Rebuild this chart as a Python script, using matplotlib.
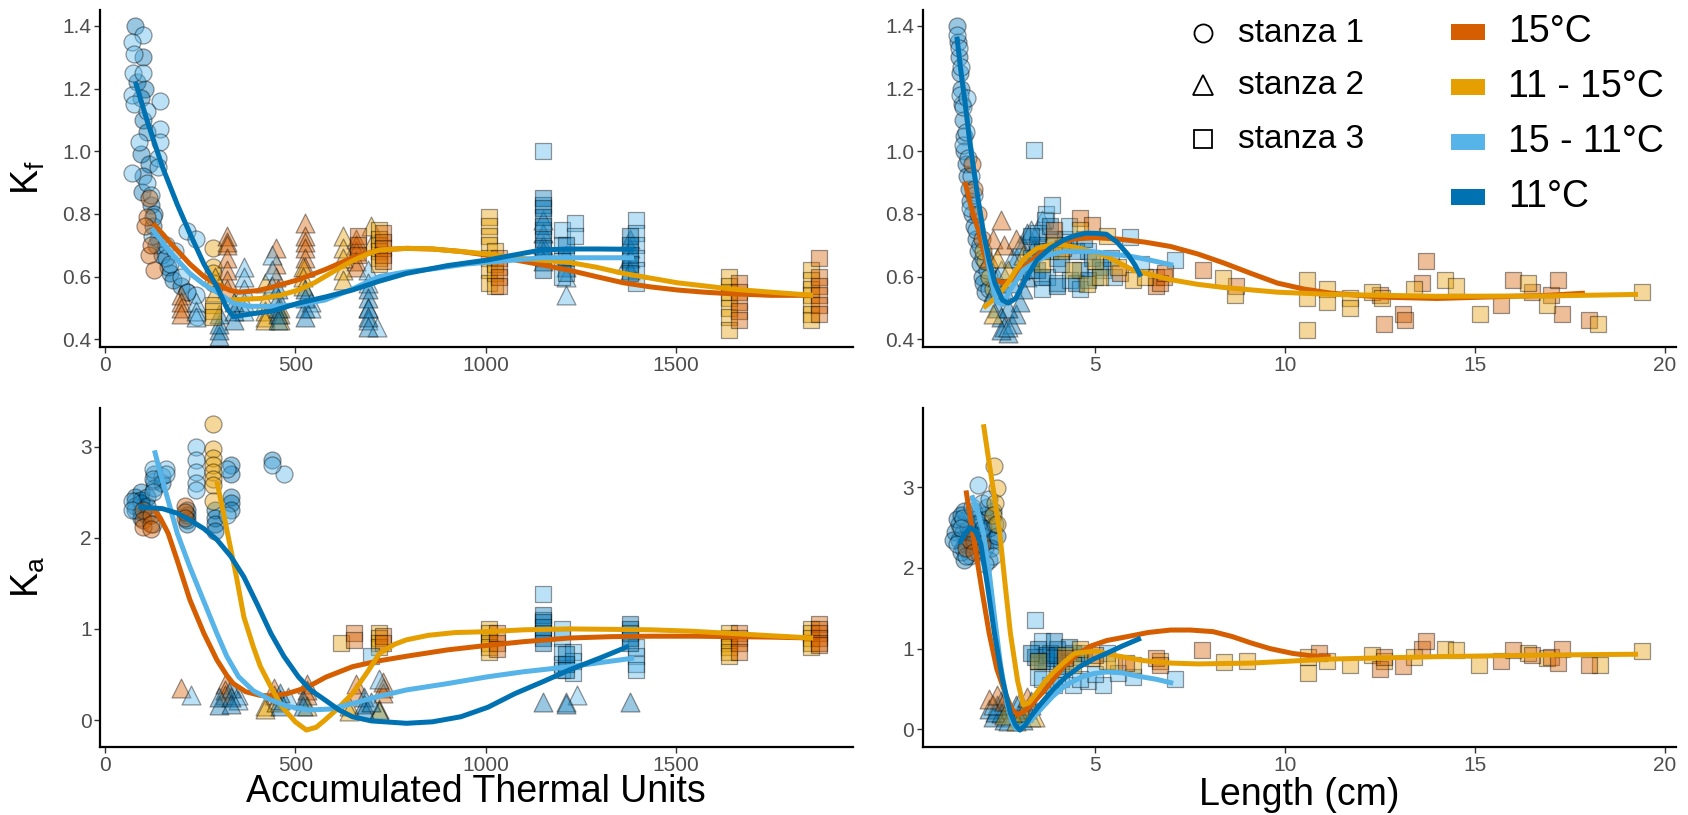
import matplotlib
matplotlib.use("Agg")
import matplotlib.pyplot as plt
from matplotlib.patches import Rectangle

plt.rcParams['font.family'] = ['Liberation Sans', 'DejaVu Sans']
plt.rcParams['mathtext.fontset'] = 'custom'
plt.rcParams['mathtext.rm'] = 'Liberation Sans'
plt.rcParams['mathtext.it'] = 'Liberation Sans:italic'

# treatments (index used in the groups below)
treatments = ['15°C', '11 - 15°C', '15 - 11°C', '11°C']
colours = ['#D55E00', '#E69F00', '#56B4E9', '#0072B2']
stanzas = ['stanza 1', 'stanza 2', 'stanza 3']

# ---- Kf vs accumulated thermal units: (treatment, stanza, ATU, Kf)
kf_atu_points = [
    (3, 1, [80, 100, 85, 105, 95, 100, 110, 96, 115, 100, 98, 120, 130, 125, 140, 150, 165, 172, 180, 200, 215, 135, 160],
     [1.40, 1.30, 1.22, 1.20, 1.17, 1.10, 1.06, 0.99, 0.96, 0.92, 0.87, 0.83, 0.80, 0.76, 0.72, 0.67, 0.63, 0.61, 0.59, 0.57, 0.55, 0.70, 0.66]),
    (2, 1, [100, 72, 75, 74, 100, 72, 75, 145, 145, 145, 140, 70, 140, 90, 110, 120, 127, 123, 160, 215, 240, 185, 215, 240, 241, 200, 170, 110],
     [1.37, 1.35, 1.31, 1.25, 1.25, 1.18, 1.15, 1.16, 1.07, 1.03, 0.98, 0.93, 0.95, 1.03, 0.90, 0.86, 0.79, 0.73, 0.70, 0.745, 0.72, 0.68, 0.55, 0.54, 0.47, 0.60, 0.64, 1.13]),
    (0, 1, [115, 110, 105, 115, 130, 120], [0.85, 0.79, 0.76, 0.67, 0.62, 0.70]),
    (1, 1, [285, 285, 285, 285], [0.69, 0.63, 0.61, 0.58]),
    (0, 2, [199, 199, 199, 199, 320, 320, 320, 320, 320, 320, 320, 450, 450, 450, 525, 525, 525, 525, 525, 525, 660, 660, 660, 660, 660],
     [0.54, 0.52, 0.50, 0.48, 0.73, 0.71, 0.70, 0.66, 0.62, 0.59, 0.56, 0.69, 0.64, 0.60, 0.77, 0.73, 0.71, 0.69, 0.66, 0.63, 0.72, 0.70, 0.68, 0.65, 0.63]),
    (1, 2, [290, 290, 420, 420, 420, 420, 420, 460, 460, 460, 520, 520, 520, 625, 625, 625, 625, 625, 700, 700],
     [0.60, 0.55, 0.58, 0.52, 0.49, 0.47, 0.46, 0.50, 0.48, 0.46, 0.63, 0.60, 0.57, 0.73, 0.69, 0.66, 0.62, 0.59, 0.76, 0.70]),
    (2, 2, [240, 240, 240, 365, 365, 365, 365, 365, 440, 440, 440, 540, 540, 690, 690, 690, 690, 715, 1150, 1150, 1210, 1210, 1210, 1370],
     [0.52, 0.49, 0.47, 0.63, 0.60, 0.56, 0.52, 0.49, 0.67, 0.62, 0.57, 0.52, 0.50, 0.62, 0.58, 0.50, 0.46, 0.44, 0.78, 0.70, 0.67, 0.60, 0.54, 0.64]),
    (3, 2, [300, 300, 300, 300, 340, 340, 340, 455, 455, 455, 455, 455, 525, 525, 525, 525, 690, 690, 690, 690, 690, 1150, 1150, 1150, 1210, 1380, 1380, 1380, 1380],
     [0.43, 0.41, 0.45, 0.48, 0.52, 0.49, 0.46, 0.56, 0.53, 0.50, 0.48, 0.46, 0.56, 0.53, 0.50, 0.47, 0.56, 0.53, 0.50, 0.47, 0.44, 0.74, 0.68, 0.65, 0.63, 0.72, 0.69, 0.66, 0.62]),
    (1, 3, [285, 285, 285, 720, 720, 720, 720, 720, 720, 1010, 1010, 1010, 1010, 1010, 1010, 1010, 1025, 1025, 1025, 1025,
            1640, 1640, 1640, 1640, 1640, 1640, 1640, 1855, 1855, 1855, 1855, 1855, 1855, 1855],
     [0.51, 0.49, 0.47, 0.75, 0.72, 0.70, 0.68, 0.66, 0.64, 0.79, 0.76, 0.73, 0.70, 0.66, 0.62, 0.58, 0.68, 0.64, 0.61, 0.57,
      0.60, 0.57, 0.55, 0.53, 0.50, 0.47, 0.43, 0.62, 0.59, 0.56, 0.54, 0.51, 0.48, 0.46]),
    (0, 3, [665, 665, 665, 730, 730, 730, 730, 730, 1035, 1035, 1035, 1035, 1665, 1665, 1665, 1665, 1665, 1875, 1875, 1875, 1875, 1875, 1875],
     [0.73, 0.70, 0.67, 0.74, 0.71, 0.69, 0.67, 0.65, 0.66, 0.63, 0.60, 0.57, 0.58, 0.55, 0.52, 0.49, 0.46, 0.66, 0.60, 0.57, 0.54, 0.51, 0.48]),
    (2, 3, [1150, 1150, 1150, 1200, 1200, 1200, 1200, 1235, 1235, 1395, 1395, 1395, 1395, 1395, 1395],
     [1.00, 0.83, 0.75, 0.75, 0.70, 0.65, 0.60, 0.77, 0.73, 0.78, 0.74, 0.70, 0.66, 0.62, 0.58]),
    (3, 3, [1150, 1150, 1150, 1150, 1150, 1150, 1150, 1150, 1210, 1210, 1210, 1380, 1380, 1380, 1380, 1380],
     [0.85, 0.82, 0.79, 0.76, 0.72, 0.69, 0.66, 0.62, 0.70, 0.66, 0.61, 0.73, 0.70, 0.67, 0.64, 0.61]),
]

# smoothed curves: (treatment, x, y)
kf_atu_curves = [
    (0, [127, 170, 223, 260, 294, 330, 353, 400, 436, 508, 578, 650, 721, 792, 860, 935, 1006, 1077, 1150, 1220, 1290, 1362, 1433, 1504, 1575, 1646, 1750, 1860],
     [0.77, 0.71, 0.64, 0.60, 0.575, 0.555, 0.55, 0.555, 0.565, 0.59, 0.622, 0.66, 0.685, 0.69, 0.688, 0.68, 0.668, 0.653, 0.637, 0.62, 0.60, 0.58, 0.567, 0.557, 0.55, 0.545, 0.54, 0.54]),
    (1, [316, 360, 408, 460, 508, 550, 578, 620, 650, 690, 721, 792, 860, 935, 1006, 1077, 1150, 1220, 1290, 1362, 1433, 1504, 1575, 1646, 1750, 1860],
     [0.525, 0.527, 0.53, 0.54, 0.557, 0.58, 0.60, 0.63, 0.65, 0.672, 0.685, 0.69, 0.688, 0.68, 0.672, 0.66, 0.652, 0.645, 0.63, 0.61, 0.595, 0.58, 0.57, 0.56, 0.55, 0.54]),
    (2, [123, 170, 223, 260, 294, 337, 380, 436, 508, 578, 650, 721, 792, 864, 950, 1077, 1150, 1220, 1300, 1390],
     [0.754, 0.68, 0.61, 0.575, 0.55, 0.515, 0.505, 0.505, 0.51, 0.525, 0.56, 0.60, 0.615, 0.625, 0.64, 0.653, 0.66, 0.66, 0.66, 0.66]),
    (3, [80, 110, 151, 190, 223, 260, 294, 320, 337, 380, 440, 508, 580, 650, 720, 792, 900, 1006, 1080, 1148, 1220, 1290, 1390],
     [1.222, 1.10, 0.95, 0.83, 0.738, 0.64, 0.568, 0.50, 0.472, 0.48, 0.49, 0.515, 0.535, 0.557, 0.585, 0.61, 0.635, 0.653, 0.67, 0.685, 0.688, 0.688, 0.687]),
]

# ---- Ka vs accumulated thermal units
ka_atu_points = [
    (3, 1, [80, 80, 80, 80, 95, 95, 95, 95, 95, 110, 110, 110, 130, 130, 130, 150, 150, 215, 215, 215, 215, 290, 290, 290, 290, 330, 330, 330, 330, 330, 440],
     [2.45, 2.40, 2.35, 2.30, 2.50, 2.42, 2.38, 2.28, 2.22, 2.45, 2.35, 2.25, 2.70, 2.62, 2.55, 2.68, 2.60, 2.30, 2.25, 2.20, 2.15, 2.30, 2.22, 2.15, 2.08, 2.80, 2.70, 2.45, 2.38, 2.30, 2.85]),
    (2, 1, [70, 70, 125, 125, 125, 125, 160, 160, 240, 240, 240, 240, 240, 320, 320, 470, 440],
     [2.40, 2.30, 2.75, 2.65, 2.50, 2.15, 2.75, 2.70, 3.00, 2.85, 2.72, 2.60, 2.52, 2.75, 2.25, 2.70, 2.80]),
    (0, 1, [100, 100, 100, 120, 120, 120, 210, 210, 210], [2.30, 2.20, 2.12, 2.25, 2.15, 2.10, 2.35, 2.28, 2.22]),
    (1, 1, [285, 285, 285, 285, 285, 285, 285, 285], [3.25, 2.98, 2.88, 2.80, 2.72, 2.65, 2.58, 2.40]),
    (0, 2, [200, 315, 315, 315, 445, 445, 530, 530, 530, 660, 660, 730, 730, 730],
     [0.35, 0.40, 0.33, 0.28, 0.35, 0.28, 0.40, 0.33, 0.28, 0.40, 0.30, 0.42, 0.35, 0.30]),
    (1, 2, [420, 420, 450, 530, 640, 640, 720, 720], [0.15, 0.12, 0.20, 0.15, 0.15, 0.10, 0.12, 0.10]),
    (2, 2, [225, 350, 350, 480, 720, 720, 1240, 1210], [0.27, 0.28, 0.22, 0.25, 0.45, 0.10, 0.27, 0.20]),
    (3, 2, [300, 300, 330, 330, 330, 460, 460, 460, 520, 520, 680, 680, 680, 700, 1150, 1210, 1380],
     [0.17, 0.25, 0.35, 0.25, 0.18, 0.30, 0.22, 0.15, 0.22, 0.15, 0.25, 0.18, 0.12, 0.20, 0.20, 0.18, 0.20]),
    (1, 3, [620, 720, 720, 720, 720, 1010, 1010, 1010, 1010, 1010, 1010, 1640, 1640, 1640, 1640, 1640, 1640, 1855, 1855, 1855, 1855, 1855],
     [0.85, 0.95, 0.90, 0.85, 0.80, 1.00, 0.95, 0.90, 0.85, 0.80, 0.75, 0.95, 0.90, 0.85, 0.80, 0.75, 0.70, 1.00, 0.95, 0.90, 0.85, 0.80]),
    (0, 3, [655, 655, 730, 730, 1030, 1030, 1030, 1665, 1665, 1665, 1665, 1875, 1875, 1875, 1875, 1875, 1875],
     [0.95, 0.88, 0.92, 0.85, 0.95, 0.85, 0.78, 0.95, 0.90, 0.85, 0.75, 1.05, 1.00, 0.95, 0.90, 0.85, 0.82]),
    (2, 3, [700, 1150, 1150, 1200, 1200, 1200, 1200, 1200, 1230, 1230, 1230, 1395, 1395, 1395, 1395],
     [0.70, 1.38, 1.10, 1.00, 0.90, 0.75, 0.62, 0.55, 0.75, 0.65, 0.52, 0.80, 0.70, 0.62, 0.55]),
    (3, 3, [1150, 1150, 1150, 1150, 1150, 1150, 1210, 1210, 1210, 1380, 1380, 1380, 1380, 1380],
     [1.15, 1.08, 1.02, 0.96, 0.90, 0.85, 0.72, 0.62, 0.55, 1.05, 1.00, 0.95, 0.90, 0.85]),
]

ka_atu_curves = [
    (0, [127, 145, 166, 190, 223, 260, 294, 320, 337, 370, 408, 440, 479, 510, 536, 580, 650, 720, 792, 900, 1006, 1100, 1220, 1330, 1433, 1550, 1650, 1750, 1860],
     [2.32, 2.22, 2.05, 1.75, 1.32, 0.95, 0.66, 0.49, 0.40, 0.31, 0.27, 0.265, 0.29, 0.33, 0.37, 0.47, 0.585, 0.65, 0.70, 0.77, 0.82, 0.86, 0.90, 0.915, 0.92, 0.92, 0.915, 0.91, 0.90]),
    (1, [294, 305, 322, 345, 365, 390, 408, 440, 465, 500, 529, 555, 578, 610, 650, 690, 721, 760, 792, 850, 920, 1006, 1100, 1220, 1330, 1433, 1540, 1646, 1750, 1860],
     [2.62, 2.40, 2.05, 1.58, 1.13, 0.80, 0.59, 0.33, 0.146, -0.02, -0.11, -0.08, 0.0, 0.12, 0.29, 0.53, 0.73, 0.83, 0.88, 0.93, 0.96, 0.97, 0.99, 1.0, 0.995, 0.99, 0.975, 0.95, 0.925, 0.90]),
    (2, [130, 145, 166, 190, 223, 260, 294, 320, 351, 390, 436, 480, 536, 590, 650, 720, 792, 900, 1006, 1100, 1220, 1300, 1390],
     [2.96, 2.72, 2.41, 2.05, 1.68, 1.30, 0.95, 0.70, 0.475, 0.32, 0.22, 0.15, 0.11, 0.12, 0.18, 0.26, 0.33, 0.40, 0.475, 0.53, 0.585, 0.63, 0.68]),
    (3, [87, 120, 151, 190, 223, 260, 294, 330, 365, 400, 436, 470, 508, 540, 578, 615, 650, 700, 792, 860, 935, 1006, 1077, 1150, 1220, 1300, 1376],
     [2.34, 2.33, 2.32, 2.27, 2.195, 2.10, 1.98, 1.80, 1.57, 1.27, 0.95, 0.70, 0.475, 0.33, 0.22, 0.11, 0.036, -0.01, -0.036, -0.02, 0.036, 0.14, 0.29, 0.42, 0.55, 0.68, 0.81]),
]

# ---- Kf vs length (cm)
kf_len_points = [
    (3, 1, [1.35, 1.38, 1.40, 1.42, 1.45, 1.48, 1.50, 1.53, 1.55, 1.58, 1.62, 1.66, 1.70, 1.75, 1.80, 1.85, 1.90, 1.95, 2.0, 2.05, 2.1],
     [1.40, 1.35, 1.30, 1.25, 1.20, 1.15, 1.10, 1.05, 1.00, 0.96, 0.92, 0.88, 0.84, 0.80, 0.76, 0.72, 0.68, 0.64, 0.60, 0.58, 0.55]),
    (2, 1, [1.35, 1.40, 1.45, 1.42, 1.52, 1.50, 1.58, 1.65, 1.72, 1.70, 1.80, 1.85, 1.95, 2.05, 2.15, 2.2, 1.62],
     [1.37, 1.33, 1.27, 1.18, 1.14, 1.02, 1.06, 0.98, 0.92, 0.82, 0.86, 0.75, 0.70, 0.66, 0.62, 0.56, 1.17]),
    (0, 1, [1.75, 1.8, 1.9, 2.0], [0.96, 0.88, 0.80, 0.72]),
    (1, 1, [2.1, 2.2, 2.3, 2.05], [0.65, 0.60, 0.56, 0.68]),
    (3, 2, [2.3, 2.4, 2.5, 2.6, 2.7, 2.5, 2.8, 2.9, 3.0, 3.1, 3.2, 3.0, 2.9, 3.3, 3.4, 3.1, 2.7, 2.6, 2.4, 2.8, 3.5, 3.2],
     [0.55, 0.50, 0.47, 0.44, 0.42, 0.43, 0.45, 0.48, 0.52, 0.56, 0.60, 0.62, 0.66, 0.65, 0.70, 0.70, 0.50, 0.56, 0.60, 0.58, 0.75, 0.74]),
    (2, 2, [2.2, 2.5, 2.8, 3.0, 3.3, 2.7, 3.6], [0.52, 0.62, 0.66, 0.70, 0.75, 0.44, 0.78]),
    (0, 2, [2.3, 2.5, 2.2, 2.6, 2.9], [0.72, 0.78, 0.66, 0.70, 0.72]),
    (1, 2, [2.4, 2.7, 3.1, 2.3], [0.66, 0.62, 0.67, 0.48]),
    (2, 3, [3.39, 3.7, 3.66, 3.85, 3.72, 3.98, 4.33, 5.9, 7.1, 4.2, 4.8, 5.2, 3.5, 4.0, 5.5, 3.3, 3.8, 4.6, 5.0, 6.2, 3.6, 4.3],
     [1.004, 0.80, 0.78, 0.83, 0.60, 0.58, 0.59, 0.727, 0.653, 0.72, 0.68, 0.62, 0.74, 0.66, 0.60, 0.62, 0.68, 0.56, 0.60, 0.64, 0.56, 0.76]),
    (3, 3, [3.45, 3.45, 4.5, 4.9, 4.5, 5.13, 3.9, 4.1, 3.6, 4.7, 3.3, 3.8, 4.3, 3.6, 4.0, 4.6, 5.4, 3.3, 4.8],
     [0.62, 0.70, 0.68, 0.66, 0.58, 0.63, 0.72, 0.64, 0.68, 0.72, 0.66, 0.76, 0.70, 0.60, 0.57, 0.62, 0.66, 0.73, 0.59]),
    (0, 3, [3.9, 4.15, 5.66, 6.6, 6.6, 6.8, 6.7, 6.84, 7.83, 8.7, 12.5, 12.6, 13.1, 13.15, 13.6, 13.7, 15.7, 16.0, 16.5, 17.0, 17.2, 17.3, 18.0, 4.6, 4.9],
     [0.75, 0.69, 0.61, 0.60, 0.57, 0.60, 0.58, 0.61, 0.62, 0.57, 0.54, 0.45, 0.48, 0.46, 0.58, 0.65, 0.51, 0.59, 0.55, 0.54, 0.59, 0.48, 0.46, 0.786, 0.765]),
    (1, 3, [4.78, 5.13, 6.0, 5.3, 4.6, 8.37, 8.67, 10.58, 10.58, 10.58, 11.1, 11.1, 11.7, 11.7, 12.3, 12.55, 13.4, 14.2, 14.5, 15.13, 16.4, 16.9, 18.25, 19.4, 4.4, 5.0, 3.9,
            3.6, 4.1, 5.6, 6.3],
     [0.575, 0.597, 0.59, 0.73, 0.75, 0.595, 0.54, 0.59, 0.53, 0.43, 0.56, 0.52, 0.53, 0.50, 0.55, 0.53, 0.56, 0.59, 0.57, 0.48, 0.58, 0.51, 0.45, 0.55, 0.62, 0.65, 0.70,
      0.64, 0.68, 0.63, 0.60]),
]

kf_len_curves = [
    (0, [1.56, 1.75, 1.91, 2.05, 2.2, 2.35, 2.55, 2.8, 3.03, 3.4, 3.74, 4.1, 4.45, 5.0, 5.57, 6.3, 6.98, 7.7, 8.39, 9.1, 9.8, 10.5, 11.2, 12.6, 14.0, 15.45, 16.9, 17.9],
     [0.903, 0.81, 0.75, 0.68, 0.62, 0.59, 0.58, 0.59, 0.62, 0.66, 0.695, 0.712, 0.72, 0.724, 0.72, 0.71, 0.696, 0.672, 0.643, 0.61, 0.579, 0.56, 0.547, 0.534, 0.53, 0.535, 0.54, 0.547]),
    (1, [2.05, 2.25, 2.48, 2.7, 2.9, 3.15, 3.46, 3.88, 4.2, 4.6, 5.29, 6.0, 6.98, 7.7, 8.39, 9.8, 11.2, 14.0, 16.9, 19.3],
     [0.50, 0.52, 0.547, 0.58, 0.62, 0.66, 0.69, 0.703, 0.70, 0.69, 0.665, 0.62, 0.59, 0.575, 0.565, 0.55, 0.543, 0.537, 0.538, 0.543]),
    (2, [1.40, 1.56, 1.75, 1.91, 2.1, 2.25, 2.4, 2.55, 2.77, 3.1, 3.46, 3.8, 4.17, 4.87, 5.57, 6.0, 6.42, 7.05],
     [1.33, 1.16, 0.98, 0.84, 0.70, 0.59, 0.52, 0.51, 0.56, 0.62, 0.65, 0.67, 0.68, 0.68, 0.67, 0.663, 0.653, 0.636]),
    (3, [1.35, 1.45, 1.56, 1.70, 1.91, 2.05, 2.2, 2.35, 2.55, 2.7, 2.9, 3.15, 3.46, 3.8, 4.17, 4.45, 4.73, 5.0, 5.29, 5.57, 5.86, 6.05, 6.2],
     [1.366, 1.26, 1.16, 1.02, 0.845, 0.74, 0.653, 0.58, 0.525, 0.515, 0.53, 0.59, 0.653, 0.69, 0.717, 0.73, 0.738, 0.738, 0.735, 0.71, 0.67, 0.635, 0.60]),
]

# ---- Ka vs length (cm)
ka_len_points = [
    (3, 1, [1.3, 1.4, 1.4, 1.5, 1.5, 1.6, 1.6, 1.7, 1.7, 1.8, 1.8, 1.9, 1.9, 2.0, 2.1, 2.1, 2.2, 2.3, 2.3, 2.2, 1.55,
            1.35, 1.45, 1.55, 1.65, 1.75, 1.85, 1.95, 2.05, 2.15, 2.25, 2.35, 2.4, 1.45, 1.25],
     [2.45, 2.35, 2.55, 2.25, 2.45, 2.60, 2.30, 2.15, 2.45, 2.70, 2.35, 2.20, 2.55, 2.40, 2.65, 2.25, 2.50, 2.70, 2.35, 2.10, 2.10,
      2.60, 2.20, 2.70, 2.50, 2.30, 2.60, 2.30, 2.50, 2.75, 2.25, 2.55, 2.40, 2.65, 2.35]),
    (2, 1, [1.35, 1.5, 1.6, 1.75, 1.9, 2.0, 2.2, 2.3, 1.45, 2.1], [2.30, 2.62, 2.15, 2.75, 3.03, 2.80, 2.85, 2.15, 2.50, 2.05]),
    (0, 1, [1.6, 1.7, 1.8, 2.0], [2.25, 2.35, 2.20, 2.30]),
    (1, 1, [2.34, 2.4, 2.35, 2.3, 2.4], [3.26, 2.99, 2.80, 2.65, 2.55]),
    (3, 2, [2.2, 2.3, 2.4, 2.5, 2.6, 2.7, 2.8, 2.9, 3.0, 3.1, 2.5, 3.2, 2.35, 2.65, 2.95, 3.3],
     [0.25, 0.15, 0.30, 0.20, 0.12, 0.25, 0.15, 0.30, 0.20, 0.12, 0.35, 0.25, 0.22, 0.30, 0.18, 0.35]),
    (2, 2, [2.3, 2.7, 3.0, 3.3], [0.30, 0.10, 0.35, 0.15]),
    (0, 2, [2.2, 2.4, 2.6, 3.2, 3.3], [0.38, 0.42, 0.35, 0.40, 0.30]),
    (1, 2, [2.6, 2.9, 3.1, 3.4], [0.18, 0.10, 0.22, 0.15]),
    (2, 3, [3.4, 3.6, 3.5, 3.8, 4.1, 4.4, 4.8, 5.2, 5.6, 7.1, 4.0, 5.0, 3.7, 5.3, 3.9, 4.6, 6.0, 3.6],
     [1.36, 1.10, 0.65, 0.55, 0.62, 0.55, 0.60, 0.55, 0.70, 0.62, 0.75, 0.68, 0.85, 0.95, 0.55, 0.62, 0.65, 0.62]),
    (3, 3, [3.4, 3.6, 3.8, 4.0, 4.2, 3.9, 4.4, 3.5, 4.6, 4.1, 3.7, 3.5, 3.9, 4.3, 4.7, 3.3, 4.0],
     [0.90, 0.85, 0.95, 1.00, 0.85, 1.10, 0.95, 1.00, 0.90, 0.78, 0.92, 0.85, 0.88, 1.02, 0.95, 0.95, 0.92]),
    (1, 3, [3.5, 4.2, 4.6, 4.9, 5.3, 5.5, 6.0, 6.7, 8.4, 10.6, 10.6, 11.1, 11.7, 12.3, 12.6, 13.4, 14.2, 14.5, 15.1, 16.4, 16.9, 18.3, 19.4, 4.4, 9.0],
     [0.85, 0.92, 1.00, 0.88, 0.85, 0.82, 0.80, 0.85, 0.83, 0.90, 0.70, 0.85, 0.80, 0.92, 0.85, 0.90, 1.00, 0.98, 0.80, 0.95, 0.88, 0.80, 0.97, 0.80, 0.85]),
    (0, 3, [4.2, 5.0, 5.8, 6.6, 6.7, 7.8, 12.5, 12.6, 13.1, 13.6, 13.7, 15.7, 16.0, 16.5, 17.0, 17.3, 17.2, 18.0, 10.9],
     [0.88, 0.92, 0.82, 0.88, 0.80, 0.98, 0.75, 0.90, 0.78, 1.00, 1.10, 0.85, 0.98, 0.92, 0.90, 1.00, 0.82, 0.80, 0.95]),
]

ka_len_curves = [
    (0, [1.59, 1.77, 2.0, 2.2, 2.4, 2.62, 2.8, 2.95, 3.17, 3.4, 3.6, 3.9, 4.17, 4.5, 4.87, 5.3, 5.86, 6.4, 6.98, 7.5, 8.1, 8.6, 9.1, 9.6, 10.2, 10.7, 11.2],
     [2.96, 2.43, 1.75, 1.19, 0.75, 0.45, 0.25, 0.18, 0.24, 0.35, 0.45, 0.62, 0.78, 0.92, 1.03, 1.10, 1.15, 1.20, 1.23, 1.23, 1.21, 1.15, 1.07, 1.00, 0.94, 0.91, 0.90]),
    (1, [2.05, 2.2, 2.35, 2.48, 2.62, 2.76, 2.95, 3.1, 3.25, 3.45, 3.65, 3.88, 4.15, 4.45, 5.0, 5.57, 6.28, 7.0, 7.7, 9.1, 11.2, 14.0, 16.9, 19.3],
     [3.78, 3.30, 2.85, 2.43, 1.80, 1.19, 0.60, 0.30, 0.33, 0.45, 0.58, 0.70, 0.82, 0.94, 0.97, 0.91, 0.85, 0.82, 0.81, 0.82, 0.87, 0.90, 0.92, 0.93]),
    (2, [1.74, 1.9, 2.05, 2.2, 2.34, 2.5, 2.69, 2.8, 2.9, 3.05, 3.3, 3.6, 3.88, 4.2, 4.6, 4.95, 5.29, 5.7, 6.1, 6.6, 7.05],
     [2.90, 2.70, 2.43, 1.95, 1.40, 0.80, 0.28, 0.10, 0.01, 0.03, 0.11, 0.27, 0.41, 0.54, 0.64, 0.69, 0.71, 0.70, 0.66, 0.62, 0.57]),
    (3, [1.42, 1.55, 1.7, 1.85, 1.98, 2.15, 2.34, 2.55, 2.76, 2.9, 3.01, 3.15, 3.3, 3.55, 3.88, 4.2, 4.6, 4.95, 5.29, 5.7, 6.2],
     [2.30, 2.42, 2.50, 2.45, 2.30, 1.80, 1.19, 0.62, 0.20, 0.05, -0.01, 0.05, 0.16, 0.31, 0.49, 0.64, 0.78, 0.87, 0.94, 1.03, 1.13]),
]

W, H = 1688, 815
markers = {1: 'o', 2: '^', 3: 's'}
msize = {1: 150, 2: 185, 3: 125}

fig = plt.figure(figsize=(W / 100, H / 100), dpi=100)


def add_ax(l, t, r, b):
    return fig.add_axes([l / W, 1 - b / H, (r - l) / W, (b - t) / H])


def draw_panel(ax, points, curves, xlim, ylim, xticks, yticks, yfmt):
    for trt, stz, xs, ys in points:
        ax.scatter(xs, ys, marker=markers[stz], s=msize[stz], facecolor=colours[trt], alpha=0.4,
                   edgecolors='black', linewidths=0.9, zorder=2)
    for trt, xs, ys in curves:
        ax.plot(xs, ys, color=colours[trt], lw=3.6, solid_capstyle='butt', solid_joinstyle='round', zorder=3)
    ax.set_xlim(*xlim)
    ax.set_ylim(*ylim)
    ax.set_xticks(xticks)
    ax.set_yticks(yticks)
    ax.set_yticklabels([yfmt.format(v) for v in yticks])
    for side in ['top', 'right']:
        ax.spines[side].set_visible(False)
    for side in ['left', 'bottom']:
        ax.spines[side].set_linewidth(1.6)
    ax.tick_params(axis='both', length=4, width=1, color='#333333', labelcolor='#4D4D4D', labelsize=15)
    ax.tick_params(axis='x', pad=3)
    ax.tick_params(axis='y', pad=2)
    ax.patch.set_visible(False)


ax_tl = add_ax(100, 10, 853, 346.7)
ax_tr = add_ax(922.7, 10, 1676, 346.7)
ax_bl = add_ax(100, 408, 853, 746.7)
ax_br = add_ax(922.7, 408.3, 1676, 746.7)

kf_ticks = [0.4, 0.6, 0.8, 1.0, 1.2, 1.4]
ka_ticks = [0, 1, 2, 3]
draw_panel(ax_tl, kf_atu_points, kf_atu_curves, (-13, 1965), (0.376, 1.451), [0, 500, 1000, 1500], kf_ticks, '{:.1f}')
draw_panel(ax_tr, kf_len_points, kf_len_curves, (0.449, 20.3), (0.376, 1.451), [5, 10, 15, 20], kf_ticks, '{:.1f}')
draw_panel(ax_bl, ka_atu_points, ka_atu_curves, (-13, 1965), (-0.293, 3.425), [0, 500, 1000, 1500], ka_ticks, '{:d}')
draw_panel(ax_br, ka_len_points, ka_len_curves, (0.449, 20.3), (-0.216, 3.978), [5, 10, 15, 20], ka_ticks, '{:d}')

# axis titles
fig.text(28 / W, 1 - 178 / H, r'$\mathregular{K_f}$', rotation=90, ha='center', va='center', fontsize=27)
fig.text(28 / W, 1 - 577 / H, r'$\mathregular{K_a}$', rotation=90, ha='center', va='center', fontsize=27)
fig.text(476 / W, 1 - 792 / H, 'Accumulated Thermal Units', ha='center', va='center', fontsize=27)
fig.text(1299 / W, 1 - 795 / H, 'Length (cm)', ha='center', va='center', fontsize=27)

# legend (drawn in pixel space on an overlay)
leg = fig.add_axes([0, 0, 1, 1])
leg.set_xlim(0, W)
leg.set_ylim(H, 0)
leg.axis('off')
for i, name in enumerate(stanzas):
    yy = [33, 85, 139][i]
    leg.plot([1203], [yy], marker=markers[i + 1], ms=[13, 14, 12.5][i], mfc='white', mec='black', mew=1.3, ls='none')
    leg.text(1238, yy, name, ha='left', va='center', fontsize=24)
for i, name in enumerate(treatments):
    yy = [32, 87, 142, 197][i]
    leg.add_patch(Rectangle((1451, yy - 8), 34, 16, facecolor=colours[i], edgecolor='none'))
    leg.text(1508, yy, name, ha='left', va='center', fontsize=27)

fig.savefig('out.png', dpi=100)
